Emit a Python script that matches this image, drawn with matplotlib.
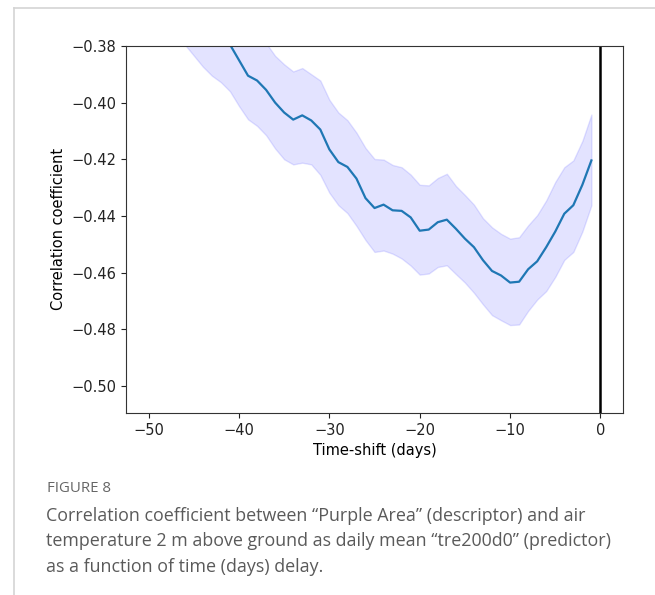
import numpy as np
import matplotlib
matplotlib.use("Agg")
import matplotlib.pyplot as plt
from matplotlib.lines import Line2D

# ── Data ─────────────────────────────────────────────────────────────────────
days = list(range(-50, 0))

corr_mean = [
    -0.352, -0.355, -0.358, -0.361, -0.364, -0.367, -0.371, -0.374, -0.376, -0.3795,
    -0.385, -0.3905, -0.3922, -0.3955, -0.400, -0.4035, -0.406, -0.4045, -0.4063, -0.4095,
    -0.4165, -0.421, -0.4227, -0.4268, -0.4337, -0.4372, -0.436, -0.438, -0.4382, -0.4405,
    -0.4452, -0.4448, -0.4422, -0.4413, -0.4445, -0.448, -0.451, -0.4556, -0.4594, -0.461,
    -0.4635, -0.4632, -0.4588, -0.456, -0.451, -0.4455, -0.4392, -0.4362, -0.429, -0.4204,
]

corr_upper = [
    -0.3355, -0.3385, -0.3415, -0.3445, -0.3475, -0.3505, -0.3545, -0.3575, -0.3595, -0.363,
    -0.3685, -0.374, -0.376, -0.379, -0.3835, -0.3865, -0.389, -0.3878, -0.390, -0.3922,
    -0.399, -0.4035, -0.4062, -0.4106, -0.416, -0.4199, -0.4201, -0.422, -0.4228, -0.4254,
    -0.429, -0.4292, -0.4266, -0.4251, -0.4294, -0.4326, -0.436, -0.4408, -0.444, -0.4463,
    -0.448, -0.4475, -0.4433, -0.4397, -0.4345, -0.428, -0.4228, -0.4204, -0.4135, -0.4042,
]

corr_lower = [
    -0.368, -0.371, -0.374, -0.377, -0.3795, -0.3834, -0.3873, -0.3905, -0.3928, -0.396,
    -0.4012, -0.4059, -0.4082, -0.4115, -0.4162, -0.420, -0.4218, -0.4212, -0.4218, -0.4255,
    -0.4318, -0.4362, -0.439, -0.4435, -0.4485, -0.4527, -0.4522, -0.4533, -0.455, -0.4575,
    -0.4607, -0.4603, -0.458, -0.4574, -0.4605, -0.4635, -0.4671, -0.4712, -0.475, -0.4768,
    -0.4785, -0.4783, -0.4735, -0.4695, -0.4665, -0.4615, -0.4555, -0.4527, -0.4455, -0.4362,
]

y_ticks = [-0.50, -0.48, -0.46, -0.44, -0.42, -0.40, -0.38]
x_ticks = [-50, -40, -30, -20, -10, 0]

caption_head = "FIGURE 8"
caption_lines = [
    "Correlation coefficient between \u201cPurple Area\u201d (descriptor) and air",
    "temperature 2 m above ground as daily mean \u201ctre200d0\u201d (predictor)",
    "as a function of time (days) delay.",
]

# ── Figure ───────────────────────────────────────────────────────────────────
fig = plt.figure(figsize=(6.55, 5.95), dpi=100)
ax = fig.add_axes([0.1924, 0.306, 0.7588, 0.6168])

ax.fill_between(days, corr_lower, corr_upper, color="blue", alpha=0.11, lw=1)
ax.plot(days, corr_mean, color="#1f77b4", lw=1.6)
ax.axvline(0, color="black", lw=1.8)

ax.set_xlim(-52.5, 2.5)
ax.set_ylim(-0.5095, -0.38)
ax.set_xticks(x_ticks)
ax.set_yticks(y_ticks)
ax.set_yticklabels([f"{t:.2f}".replace("-", "\u2212") for t in y_ticks])
ax.tick_params(labelsize=10.5, colors="#222222")
for s in ax.spines.values():
    s.set_color("#333333")
ax.set_xlabel("Time-shift (days)", fontsize=10.5)
ax.set_ylabel("Correlation coefficient", fontsize=10.5)

# page frame lines
fig.add_artist(Line2D([14 / 655, 1], [1 - 8 / 595, 1 - 8 / 595],
                      color="#d4d4d4", lw=1.2, transform=fig.transFigure))
fig.add_artist(Line2D([14 / 655, 14 / 655], [0, 1 - 8 / 595],
                      color="#d4d4d4", lw=1.2, transform=fig.transFigure))

fig.text(47 / 655, 1 - 488 / 595, caption_head, fontsize=10.8, color="#666666",
         family="Open Sans", va="center")
for i, line in enumerate(caption_lines):
    fig.text(46 / 655, 1 - (516 + 25.5 * i) / 595, line, fontsize=12.9,
             color="#5a5a5a", family="Open Sans", va="center")

fig.savefig("out.png", dpi=100)
